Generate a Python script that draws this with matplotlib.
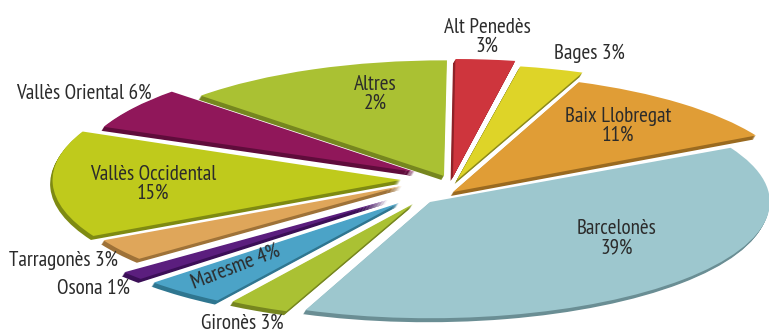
import matplotlib
matplotlib.use('Agg')
import matplotlib.pyplot as plt
from matplotlib.patches import Wedge

# labelled shares, and the angular size each slice really gets in the drawing
comarques = ['Altres', 'Alt Penedès', 'Bages', 'Baix Llobregat', 'Barcelonès', 'Gironès',
             'Maresme', 'Osona', 'Tarragonès', 'Vallès Occidental', 'Vallès Oriental']
percent = [2, 3, 3, 11, 39, 3, 4, 1, 3, 15, 6]
drawn_deg = [46.5, 10, 11, 40, 139.3, 10.3, 14, 4.3, 11, 52, 21]
start_deg = [89.5, 79.6, 68.2, 28.6, 248.5, 237.7, 223.5, 218.7, 208, 156, 136]

colors = ['#AAC133', '#CE353D', '#DED428', '#E09D36', '#9DC7CE', '#AAC133',
          '#4BA3C7', '#5B1E7E', '#DFA65A', '#BFCA1C', '#90175A']
sides = ['#76861F', '#8F2228', '#8C8A1C', '#9A6A20', '#6A8E94', '#76861F',
         '#2F7690', '#3B0F57', '#9E7238', '#7E8A12', '#5F0C3B']

# slice apex in pixels and radius (exploded layout)
apex_x = [444, 453, 457, 453, 430, 413, 399, 388, 402, 401, 415]
apex_y = [176, 177, 180, 192, 202, 204, 203, 200, 186, 180, 172]
radius = [0.98, 1.0, 0.98, 1.0, 0.985, 0.98, 0.98, 0.98, 0.98, 1.01, 0.98]

RX, RY = 345, 118
CX, CY = 430, 185

fig = plt.figure(figsize=(7.69, 3.33), dpi=100)
ax = fig.add_axes([0, 0, 1, 1])
ax.set_xlim(-CX / RX, (769 - CX) / RX)
ax.set_ylim((CY - 333) / RY, CY / RY)
ax.axis('off')


def tox(p):
    return (p - CX) / RX


def toy(p):
    return (CY - p) / RY


depth = 4
for i in range(len(comarques)):
    x0, y0 = apex_x[i], apex_y[i]
    t1, t2 = start_deg[i], start_deg[i] + drawn_deg[i]
    for d in range(depth, 0, -1):
        ax.add_patch(Wedge((tox(x0 - 0.6 * d), toy(y0 + d)), radius[i], t1, t2,
                           fc=sides[i], ec='none'))
    ax.add_patch(Wedge((tox(x0), toy(y0)), radius[i], t1, t2, fc=colors[i], ec='none'))

labels = ['Altres\n2%', 'Alt Penedès\n3%', 'Bages 3%', 'Baix Llobregat\n11%', 'Barcelonès\n39%',
          'Gironès 3%', 'Maresme 4%', 'Osona 1%', 'Tarragonès 3%', 'Vallès Occidental\n15%',
          'Vallès Oriental 6%']
label_x = [375, 487, 589, 618, 617, 242, 236, 93, 63, 153, 84]
label_y = [94, 37, 53, 126, 238, 323, 267, 288, 260, 184, 93]
rotation = [0, 0, 0, 0, 0, 0, 21, 0, 0, 0, 0]

plt.rcParams['font.family'] = ['PT Sans Narrow', 'Open Sans Condensed', 'Asap Condensed', 'Roboto', 'DejaVu Sans']
for i in range(len(labels)):
    fig.text(label_x[i] / 769, 1 - label_y[i] / 333, labels[i], ha='center', va='center',
             fontsize=15.2, color='#2b2b2b', rotation=rotation[i], linespacing=1.0,
             rotation_mode='anchor')

fig.savefig('out.png', dpi=100)
